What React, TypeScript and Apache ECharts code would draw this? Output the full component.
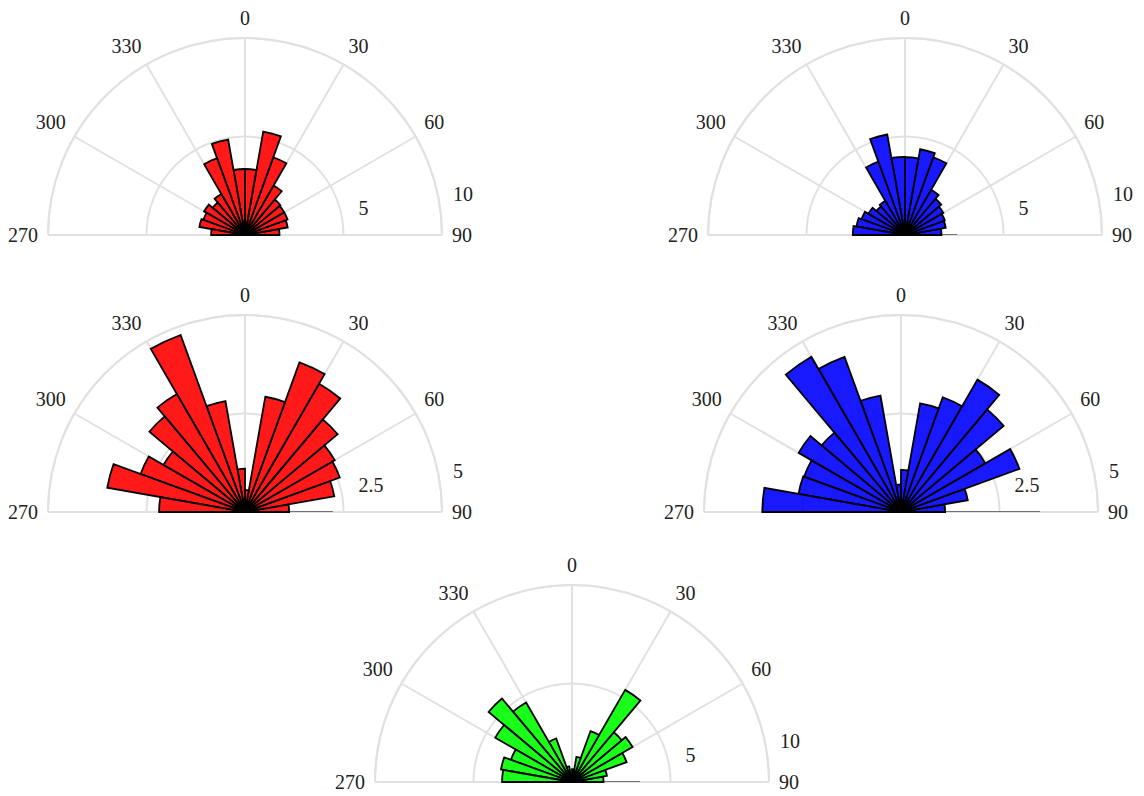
import { useEffect, useRef } from "react";
import * as echarts from "echarts";

// Compass bins (start of each 10° sector), left to right across the half-rose
const BINS = ["270", "280", "290", "300", "310", "320", "330", "340", "350", "0", "10", "20", "30", "40", "50", "60", "70", "80"];

// Sector lengths, one per bin
const redTop = [1.72, 2.35, 2.25, 2.4, 2.15, 2.4, 4.15, 4.92, 3.35, 3.35, 5.33, 4.2, 2.9, 2.35, 2.3, 2.3, 2.2, 1.75];
const blueTop = [2.65, 2.5, 2.35, 2.15, 1.9, 2.0, 3.96, 5.18, 3.97, 3.95, 4.42, 4.2, 2.65, 2.4, 2.25, 2.15, 2.1, 1.85];
const redMid = [2.18, 3.55, 2.82, 2.39, 3.17, 3.46, 4.78, 2.86, 1.1, 0.56, 2.97, 4.04, 3.76, 3.07, 2.63, 2.56, 2.3, 1.12];
const blueMid = [3.52, 2.64, 2.62, 3.0, 2.63, 4.55, 4.19, 3.0, 0.7, 1.07, 2.8, 3.1, 3.88, 3.4, 2.47, 3.2, 1.72, 1.12];
const greenBottom = [3.55, 3.66, 3.3, 4.5, 5.53, 4.66, 2.35, 0.8, 0.35, 0.65, 1.3, 2.75, 5.4, 3.3, 3.55, 2.95, 1.8, 1.6];

// Length of the 90–100° sector, of which only the edge on the 90° spoke shows
const edgeAt90 = [1.7, 2.65, 2.23, 3.53, 3.45];

// Radial axis ranges
const radialMax = [10, 10, 5, 5, 10];
const radialStep = [5, 5, 2.5, 2.5, 5];

const FILLS = ["rgba(255,0,0,0.9)", "rgba(0,0,255,0.9)", "rgba(255,0,0,0.9)", "rgba(0,0,255,0.9)", "rgba(0,255,0,0.9)"];
const CENTERS: [number, number][] = [
  [245, 235],
  [905, 235],
  [245, 512],
  [901, 512],
  [572, 782],
];
const RADIUS = 197;
const GRID = "#e1e1e1";
const FONT = "Liberation Serif";
const LABEL_COLOR = "#222";

const SERIES_VALUES = [redTop, blueTop, redMid, blueMid, greenBottom];

function buildOption() {
  const polar: any[] = [];
  const angleAxis: any[] = [];
  const radiusAxis: any[] = [];
  const series: any[] = [];
  const binsRtl = [...BINS].reverse();

  SERIES_VALUES.forEach((values, i) => {
    const gi = i * 2;
    const bi = i * 2 + 1;
    const max = radialMax[i];
    polar.push({ center: CENTERS[i], radius: RADIUS }, { center: CENTERS[i], radius: RADIUS });

    // Grid polar: value angle axis from 90° (right) counter-clockwise to 270° (left)
    angleAxis.push({
      polarIndex: gi,
      type: "value",
      min: 0,
      max: 180,
      interval: 30,
      startAngle: 0,
      endAngle: 180,
      clockwise: false,
      axisLine: { lineStyle: { color: GRID, width: 2 } },
      axisTick: { show: false },
      splitLine: { lineStyle: { color: GRID, width: 2 } },
      axisLabel: {
        formatter: (v: number) => String((450 - v) % 360),
        color: LABEL_COLOR,
        fontFamily: FONT,
        fontSize: 20,
        margin: 10,
      },
    });
    radiusAxis.push({
      polarIndex: gi,
      type: "value",
      min: 0,
      max,
      interval: radialStep[i],
      axisLine: { show: false },
      axisTick: { show: false },
      splitLine: { lineStyle: { color: GRID, width: 2 } },
      axisLabel: {
        showMinLabel: false,
        align: "left",
        margin: 17,
        formatter: (v: number) => (v === max ? `{outer|${v}}` : `{inner|${v}}`),
        rich: {
          inner: { padding: [0, 0, 0, 15], fontFamily: FONT, fontSize: 20, color: LABEL_COLOR },
          outer: { padding: [0, 0, 14, 11], fontFamily: FONT, fontSize: 20, color: LABEL_COLOR },
        },
      },
    });

    // Bar polar: one category per 10° bin, drawn right to left
    angleAxis.push({
      polarIndex: bi,
      type: "category",
      data: binsRtl,
      startAngle: 0,
      endAngle: 180,
      clockwise: false,
      show: false,
    });
    radiusAxis.push({ polarIndex: bi, type: "value", min: 0, max, show: false });

    series.push({
      type: "bar",
      coordinateSystem: "polar",
      polarIndex: bi,
      data: [...values].reverse(),
      barCategoryGap: "0%",
      barGap: "0%",
      itemStyle: { color: FILLS[i], borderColor: "#000", borderWidth: 1.8 },
      z: 3,
    });
    series.push({
      type: "line",
      coordinateSystem: "polar",
      polarIndex: gi,
      data: [
        [0, 0],
        [edgeAt90[i], 0],
      ],
      symbol: "none",
      lineStyle: { color: "#000", width: 1 },
      z: 4,
    });
  });

  return {
    animation: false,
    backgroundColor: "#fff",
    polar,
    angleAxis,
    radiusAxis,
    series,
  };
}

export default function App() {
  const ref = useRef<HTMLDivElement>(null);
  useEffect(() => {
    if (!ref.current) return;
    const chart = echarts.init(ref.current, undefined, { renderer: "svg" });
    chart.setOption(buildOption() as any);
    return () => chart.dispose();
  }, []);
  return <div ref={ref} style={{ position: "absolute", left: 0, top: 0, width: 1144, height: 796 }} />;
}
